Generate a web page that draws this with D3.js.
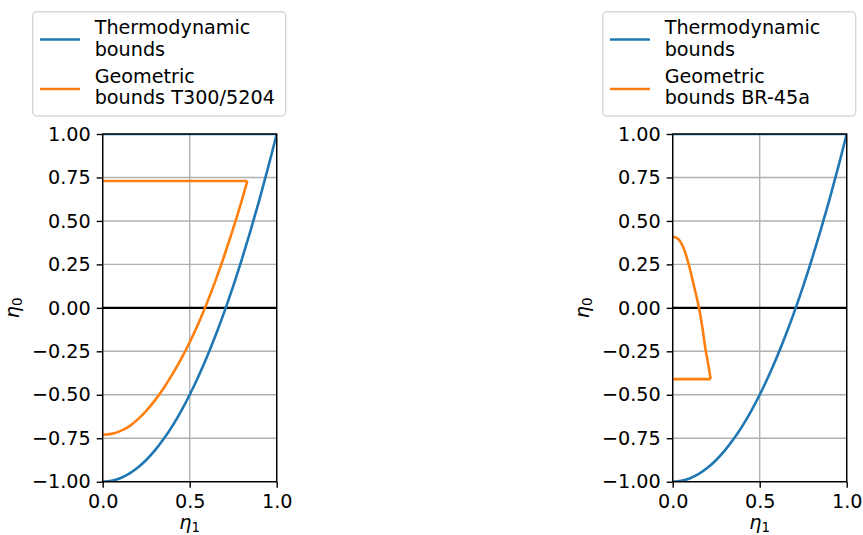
<!DOCTYPE html>
<html>
<head>
<meta charset="utf-8">
<script src="https://cdn.jsdelivr.net/npm/d3@7"></script>
<style>
  html, body { margin: 0; padding: 0; background: #fff; }
  svg { display: block; font-family: "DejaVu Sans", sans-serif; }
</style>
</head>
<body>
<svg id="chart" width="863" height="535"></svg>
<script>
// Thermodynamic bound: lower curve of eta0 against eta1, closed by eta0 = 1
const thermoEta1 = [0, 0.05, 0.1, 0.15, 0.2, 0.25, 0.3, 0.35, 0.4, 0.45, 0.5, 0.55, 0.6, 0.65, 0.7, 0.75, 0.8, 0.85, 0.9, 0.95, 1.0];
const thermoEta0 = [-1, -0.995, -0.98, -0.955, -0.92, -0.875, -0.82, -0.755, -0.68, -0.595, -0.5, -0.395, -0.28, -0.155, -0.02, 0.125, 0.28, 0.445, 0.62, 0.805, 1.0];
const thermoTop = 1.0;

// Geometric bound, T300/5204: flat cap, then the curved flank down to eta1 = 0
const geoT300Cap = 0.73;
const geoT300Eta1 = [0.831, 0.8, 0.75, 0.7, 0.65, 0.6, 0.55, 0.5, 0.45, 0.4, 0.35, 0.3, 0.25, 0.2, 0.15, 0.1, 0.05, 0];
const geoT300Eta0 = [0.73, 0.62, 0.457, 0.304, 0.161, 0.03, -0.09, -0.198, -0.295, -0.383, -0.462, -0.532, -0.593, -0.643, -0.683, -0.709, -0.725, -0.73];

// Geometric bound, BR-45a: curved flank from eta1 = 0, then flat floor back to eta1 = 0
const geoBR45Eta1 = [0, 0.03, 0.06, 0.092, 0.12, 0.151, 0.17, 0.188, 0.205, 0.218];
const geoBR45Eta0 = [0.41, 0.397, 0.35, 0.25, 0.135, 0, -0.11, -0.235, -0.33, -0.41];
const geoBR45Floor = -0.41;

const xTicks = [0, 0.5, 1.0];
const yTicks = [-1, -0.75, -0.5, -0.25, 0, 0.25, 0.5, 0.75, 1.0];

const panels = [
  { left: 102.7, legendX: 32.7, geoLabel: ["Geometric", "bounds T300/5204"], geo: "t300" },
  { left: 672.7, legendX: 602.7, geoLabel: ["Geometric", "bounds BR-45a"], geo: "br45" }
];

const plotW = 174, plotTop = 134, plotBottom = 481.7;
const blue = "#1f77b4", orange = "#ff7f0e";
const fs = 19.2;
const lw = 2.6;

const svg = d3.select("#chart");

panels.forEach((p, i) => {
  const x = d3.scaleLinear().domain([0, 1]).range([p.left, p.left + plotW]);
  const y = d3.scaleLinear().domain([-1, 1]).range([plotBottom, plotTop]);
  const g = svg.append("g");

  const clipId = "clip" + i;
  svg.append("clipPath").attr("id", clipId)
    .append("rect").attr("x", p.left).attr("y", plotTop).attr("width", plotW).attr("height", plotBottom - plotTop);

  // grid
  g.append("g").selectAll("line").data(xTicks).join("line")
    .attr("x1", d => x(d)).attr("x2", d => x(d)).attr("y1", plotTop).attr("y2", plotBottom)
    .attr("stroke", "#b0b0b0").attr("stroke-width", 1.4);
  g.append("g").selectAll("line").data(yTicks).join("line")
    .attr("x1", p.left).attr("x2", p.left + plotW).attr("y1", d => y(d)).attr("y2", d => y(d))
    .attr("stroke", "#b0b0b0").attr("stroke-width", 1.4);

  // zero line
  g.append("line").attr("x1", p.left).attr("x2", p.left + plotW)
    .attr("y1", y(0)).attr("y2", y(0)).attr("stroke", "#000").attr("stroke-width", 2.4);

  const straight = d3.line().x(d => x(d[0])).y(d => y(d[1]));
  const smooth = d3.line().x(d => x(d[0])).y(d => y(d[1])).curve(d3.curveCatmullRom.alpha(0.5));
  const plotG = g.append("g").attr("clip-path", `url(#${clipId})`);
  const stroke = (sel, c) => sel.attr("fill", "none").attr("stroke", c).attr("stroke-width", lw)
    .attr("stroke-linejoin", "round").attr("stroke-linecap", "butt");

  // thermodynamic bound: curve plus its flat top
  const thermo = thermoEta1.map((v, k) => [v, thermoEta0[k]]);
  plotG.append("path").attr("d", smooth(thermo)).call(stroke, blue);
  plotG.append("path").attr("d", straight([[1, thermoTop], [0, thermoTop]])).call(stroke, blue);

  // geometric bound: curved flank plus its flat segment
  if (p.geo === "t300") {
    const flank = geoT300Eta1.map((v, k) => [v, geoT300Eta0[k]]);
    plotG.append("path").attr("d", straight([[0, geoT300Cap], flank[0]])).call(stroke, orange);
    plotG.append("path").attr("d", smooth(flank)).call(stroke, orange);
  } else {
    const flank = geoBR45Eta1.map((v, k) => [v, geoBR45Eta0[k]]);
    plotG.append("path").attr("d", smooth(flank)).call(stroke, orange);
    plotG.append("path").attr("d", straight([flank[flank.length - 1], [0, geoBR45Floor]])).call(stroke, orange);
  }

  // axes
  const xAxis = d3.axisBottom(x).tickValues(xTicks).tickFormat(d3.format(".1f")).tickSizeOuter(0).tickSize(6).tickPadding(7);
  const yAxis = d3.axisLeft(y).tickValues(yTicks).tickFormat(d => d3.format(".2f")(d).replace("-", "\u2212")).tickSizeOuter(0).tickSize(6).tickPadding(6);
  const gx = g.append("g").attr("transform", `translate(0,${plotBottom})`).call(xAxis);
  const gy = g.append("g").attr("transform", `translate(${p.left},0)`).call(yAxis);
  [gx, gy].forEach(a => {
    a.select(".domain").remove();
    a.selectAll(".tick line").attr("stroke", "#000").attr("stroke-width", 1.4);
    a.selectAll(".tick text").attr("fill", "#000").attr("font-size", fs).attr("font-family", "DejaVu Sans");
  });
  gx.selectAll(".tick text").attr("dy", "0.71em");

  // spines
  g.append("rect").attr("x", p.left).attr("y", plotTop).attr("width", plotW).attr("height", plotBottom - plotTop)
    .attr("fill", "none").attr("stroke", "#000").attr("stroke-width", 1.4);

  // axis labels
  const xl = g.append("text").attr("x", x(0.5)).attr("y", 529).attr("text-anchor", "middle")
    .attr("font-size", fs);
  xl.append("tspan").attr("font-style", "italic").text("η");
  xl.append("tspan").attr("font-size", fs * 0.7).attr("dy", 3).text("1");

  const yl = g.append("text").attr("transform", `translate(${p.left - 84},${(plotTop + plotBottom) / 2}) rotate(-90)`)
    .attr("text-anchor", "middle").attr("font-size", fs);
  yl.append("tspan").attr("font-style", "italic").text("η");
  yl.append("tspan").attr("font-size", fs * 0.7).attr("dy", 3).text("0");

  // legend
  const lg = svg.append("g");
  lg.append("rect").attr("x", p.legendX).attr("y", 11.7).attr("width", 253).attr("height", 104.3)
    .attr("rx", 4).attr("fill", "#fff").attr("fill-opacity", 0.8)
    .attr("stroke", "#d6d6d6").attr("stroke-width", 1.4);
  const entries = [
    { color: blue, lines: ["Thermodynamic", "bounds"], lineY: 39.5, baseY: 34 },
    { color: orange, lines: p.geoLabel, lineY: 89, baseY: 82.7 }
  ];
  entries.forEach(e => {
    lg.append("line").attr("x1", p.legendX + 7.3).attr("x2", p.legendX + 47.3)
      .attr("y1", e.lineY).attr("y2", e.lineY).attr("stroke", e.color).attr("stroke-width", lw);
    e.lines.forEach((t, k) => {
      lg.append("text").attr("x", p.legendX + 62).attr("y", e.baseY + k * 21.6)
        .attr("font-size", fs).attr("fill", "#000").text(t);
    });
  });
});
</script>
</body>
</html>
